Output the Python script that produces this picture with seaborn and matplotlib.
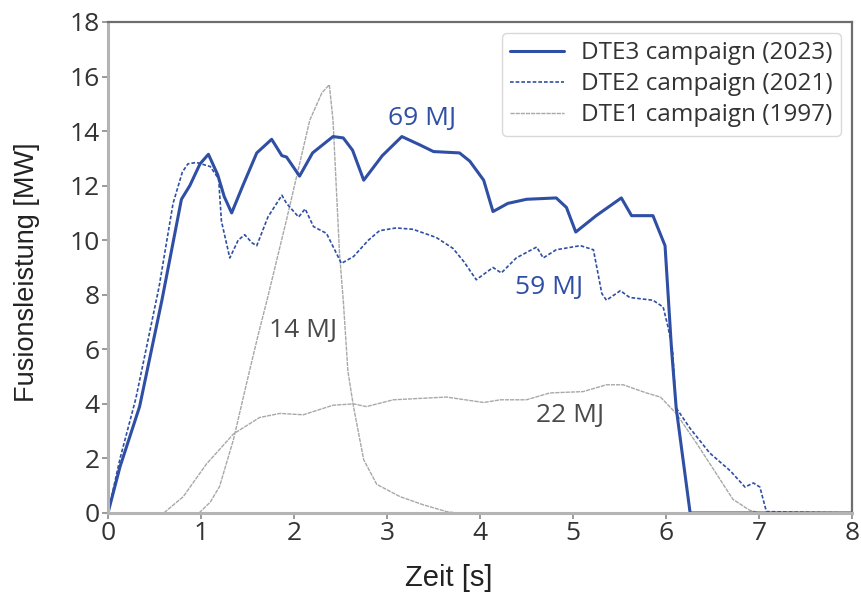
import matplotlib
matplotlib.use("Agg")
import matplotlib.pyplot as plt
import seaborn as sns
import pandas as pd

# ---- data ----
dte3_t = [0.00, 0.13, 0.34, 0.58, 0.79, 0.88, 0.99, 1.08, 1.18, 1.25, 1.33, 1.45, 1.60, 1.76, 1.87,
          1.92, 2.06, 2.20, 2.42, 2.53, 2.63, 2.75, 2.95, 3.16, 3.35, 3.50, 3.78, 3.89, 4.04, 4.14,
          4.30, 4.50, 4.82, 4.93, 5.03, 5.25, 5.52, 5.63, 5.86, 5.99, 6.06, 6.11, 6.26, 8.00]
dte3_p = [0.0, 1.7, 3.9, 7.8, 11.5, 12.0, 12.8, 13.15, 12.4, 11.6, 11.0, 12.0, 13.2, 13.7, 13.1,
          13.05, 12.35, 13.2, 13.8, 13.75, 13.3, 12.2, 13.1, 13.8, 13.5, 13.25, 13.2, 12.9, 12.2, 11.05,
          11.35, 11.5, 11.55, 11.2, 10.3, 10.9, 11.55, 10.9, 10.9, 9.8, 6.0, 3.85, 0.0, 0.0]

dte2_t = [0.00, 0.13, 0.30, 0.55, 0.70, 0.80, 0.86, 0.95, 1.10, 1.19, 1.22, 1.31, 1.40, 1.47, 1.55,
          1.60, 1.72, 1.87, 1.92, 2.05, 2.12, 2.21, 2.35, 2.51, 2.64, 2.80, 2.92, 3.10, 3.28, 3.53,
          3.71, 3.83, 3.96, 4.14, 4.23, 4.39, 4.61, 4.68, 4.82, 5.08, 5.22, 5.31, 5.36, 5.51, 5.61,
          5.86, 5.97, 6.02, 6.07, 6.11, 6.26, 6.47, 6.69, 6.85, 6.94, 7.01, 7.08, 8.00]
dte2_p = [0.0, 2.0, 4.2, 8.3, 11.35, 12.5, 12.8, 12.85, 12.7, 12.25, 10.7, 9.35, 10.0, 10.2, 9.9,
          9.8, 10.85, 11.65, 11.35, 10.85, 11.15, 10.5, 10.25, 9.15, 9.4, 10.0, 10.35, 10.45, 10.4, 10.1,
          9.7, 9.2, 8.55, 9.0, 8.8, 9.35, 9.75, 9.35, 9.65, 9.8, 9.65, 8.05, 7.8, 8.15, 7.9,
          7.8, 7.55, 6.85, 6.0, 3.85, 3.1, 2.2, 1.55, 0.95, 1.1, 0.95, 0.05, 0.0]

dte1a_t = [0.98, 1.10, 1.20, 1.35, 1.49, 1.62, 1.71, 1.92, 2.17, 2.30, 2.38, 2.42, 2.49, 2.53, 2.58,
           2.64, 2.75, 2.89, 3.14, 3.39, 3.64, 3.75]
dte1a_p = [0.0, 0.4, 0.97, 2.7, 4.75, 6.6, 7.8, 10.75, 14.4, 15.4, 15.7, 14.4, 9.5, 7.8, 5.2,
           3.9, 1.95, 1.05, 0.6, 0.3, 0.05, 0.0]

dte1b_t = [0.55, 0.60, 0.81, 1.06, 1.35, 1.63, 1.85, 2.10, 2.42, 2.64, 2.78, 3.07, 3.64, 4.04, 4.22,
           4.50, 4.75, 5.11, 5.36, 5.54, 5.79, 5.94, 6.11, 6.33, 6.54, 6.72, 6.90, 7.01]
dte1b_p = [0.0, 0.0, 0.6, 1.8, 2.9, 3.5, 3.65, 3.6, 3.95, 4.0, 3.9, 4.15, 4.25, 4.05, 4.15,
           4.15, 4.4, 4.45, 4.7, 4.7, 4.4, 4.25, 3.65, 2.55, 1.45, 0.5, 0.1, 0.0]

labels = ["DTE3 campaign (2023)", "DTE2 campaign (2021)", "DTE1 campaign (1997)"]
energy_texts = ["69 MJ", "59 MJ", "14 MJ", "22 MJ"]

BLUE = "#2f4fa5"
GRAY = "#a8a8a8"
TXTGRAY = "#4a4a4a"

sns.set_theme(style="white")
plt.rcParams["font.family"] = ["Open Sans", "DejaVu Sans"]

fig = plt.figure(figsize=(8.61, 5.96), dpi=100)
ax = fig.add_axes([0.1254, 0.1393, 0.8641, 0.8238])

sns.lineplot(x=dte1a_t, y=dte1a_p, ax=ax, color=GRAY, lw=1.0, linestyle=(0, (3, 0.7)),
             estimator=None, sort=False, label=labels[2])
sns.lineplot(x=dte1b_t, y=dte1b_p, ax=ax, color=GRAY, lw=1.0, linestyle=(0, (3, 0.7)),
             estimator=None, sort=False)
sns.lineplot(x=dte2_t, y=dte2_p, ax=ax, color=BLUE, lw=1.2, linestyle=(0, (2.2, 1.2)),
             estimator=None, sort=False, label=labels[1])
sns.lineplot(x=dte3_t, y=dte3_p, ax=ax, color=BLUE, lw=2.2, linestyle="-",
             estimator=None, sort=False, label=labels[0])

ax.set_xlim(0, 8)
ax.set_ylim(0, 18)
ax.set_xticks(range(0, 9))
ax.set_yticks(range(0, 19, 2))

fs_ann = 19
ax.text(3.376, 14.45, energy_texts[0], color=BLUE, fontsize=fs_ann, ha="center", va="center")
ax.text(4.74, 8.25, energy_texts[1], color=BLUE, fontsize=fs_ann, ha="center", va="center")
ax.text(2.10, 6.7, energy_texts[2], color=TXTGRAY, fontsize=fs_ann, ha="center", va="center")
ax.text(4.97, 3.56, energy_texts[3], color=TXTGRAY, fontsize=fs_ann, ha="center", va="center")

for s in ["left", "bottom"]:
    ax.spines[s].set_color("#b4b4b4")
    ax.spines[s].set_linewidth(2.2)
for s in ["top", "right"]:
    ax.spines[s].set_color("#6e6e6e")
    ax.spines[s].set_linewidth(1.6)

ax.tick_params(axis="both", which="major", direction="out", length=4, width=1.2,
               color="#8a8a8a", labelsize=19, labelcolor="#333333", left=True, bottom=True, pad=2)

lab_family = ["Liberation Sans", "DejaVu Sans"]
ax.set_xlabel("Zeit [s]", fontsize=21, color="#222222", family=lab_family)
ax.set_ylabel("Fusionsleistung [MW]", fontsize=19.5, color="#222222", family=lab_family)
ax.xaxis.set_label_coords(0.458, -0.104)
ax.yaxis.set_label_coords(-0.092, 0.49)

handles, labs = ax.get_legend_handles_labels()
order = [labs.index(l) for l in labels]
leg = ax.legend([handles[i] for i in order], [labs[i] for i in order], loc="upper right",
                fontsize=17.5, frameon=True, fancybox=True, handlelength=2.2,
                borderaxespad=0.45, borderpad=0.35, labelspacing=0.28, handletextpad=0.7)
leg.get_frame().set_edgecolor("#d0d0d0")
leg.get_frame().set_linewidth(1.0)
for t in leg.get_texts():
    t.set_color("#333333")

fig.savefig("out.png", dpi=100)
